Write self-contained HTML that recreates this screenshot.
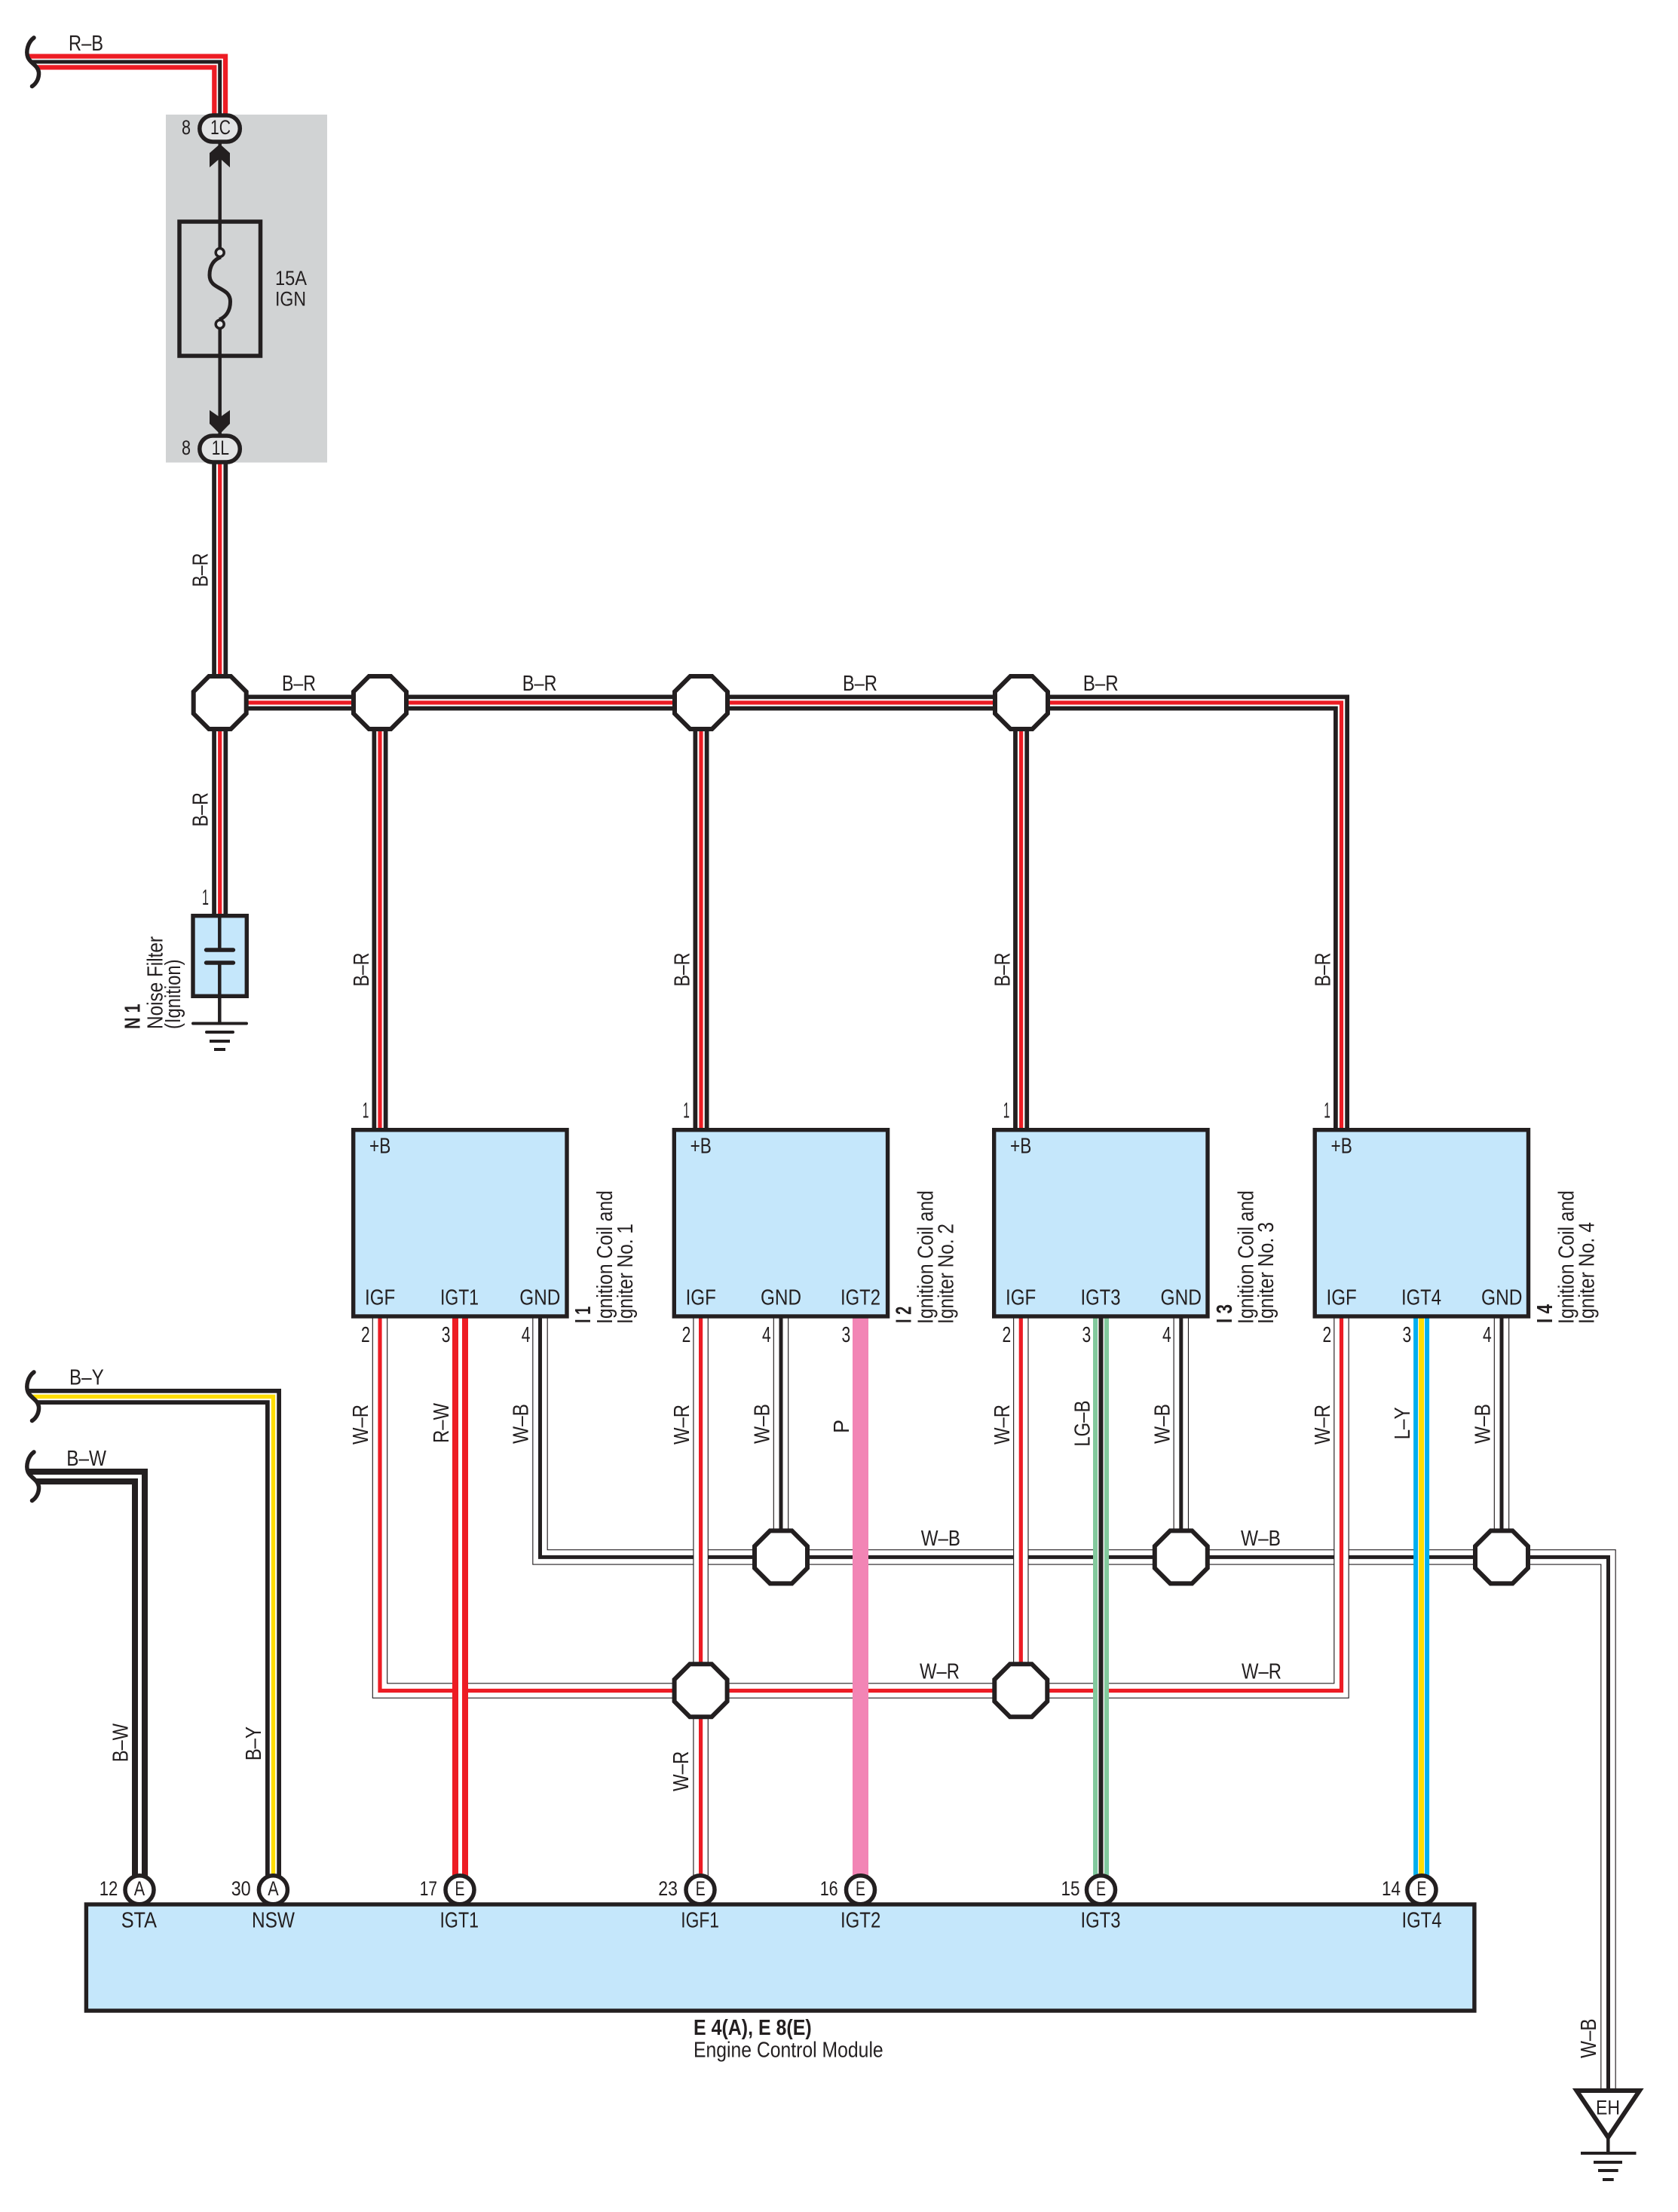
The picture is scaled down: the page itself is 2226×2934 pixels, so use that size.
<!DOCTYPE html>
<html><head><meta charset="utf-8"><title>Ignition Circuit Diagram</title>
<style>
html,body{margin:0;padding:0;background:#fff}
svg{display:block}
text{font-family:"Liberation Sans",Arial,sans-serif;font-size:29px;fill:#231f20}
.b{font-weight:bold}
.s{font-size:26.5px}
path,line,polyline{fill:none}
.k21{stroke:#231f20;stroke-width:21}
.kt{stroke:#231f20;stroke-width:20.5}
.r21{stroke:#ed1c24;stroke-width:21}
.wh10{stroke:#fff;stroke-width:9.5}
.wh5{stroke:#fff;stroke-width:5}
.wht{stroke:#fff;stroke-width:18.2}
.r5{stroke:#ed1c24;stroke-width:5.2}
.k5{stroke:#231f20;stroke-width:5}
.y5{stroke:#ffdd00;stroke-width:5.4}
.p{stroke:#f285b5;stroke-width:21}
.g{stroke:#83c99d;stroke-width:21}
.bl{stroke:#00aeef;stroke-width:21}
.wh8{stroke:#fff;stroke-width:9}
.y8{stroke:#ffdd00;stroke-width:7}
.k6{stroke:#231f20;stroke-width:6}
.box{fill:#c5e7fb;stroke:#231f20;stroke-width:5.4}
.oct{fill:#fff;stroke:#231f20;stroke-width:6;stroke-linejoin:miter}
.term{fill:#fff;stroke:#231f20;stroke-width:5.5}
.brace{fill:none;stroke:#231f20;stroke-width:5.5;stroke-linecap:round}
.gl{stroke:#231f20;stroke-width:4}
.lc{stroke-linecap:round}
</style></head><body>
<svg xmlns="http://www.w3.org/2000/svg" width="2226" height="2934" viewBox="0 0 2226 2934">
<defs>
<polygon id="o" class="oct" points="-14.5,-35 14.5,-35 35,-14.5 35,14.5 14.5,35 -14.5,35 -35,14.5 -35,-14.5"/>
</defs>
<rect width="2226" height="2934" fill="#fff"/>

<!-- fuse block -->
<rect x="220" y="152" width="214" height="461.5" fill="#d1d3d4"/>

<!-- R-B -->
<path class="r21" d="M30,82H291.7V152"/><path class="wh10" style="stroke-width:8.5" d="M30,82H291.7V152"/><path class="k5" d="M30,82H291.7V152"/>
<polygon fill="#fff" points="0,68 37,68 38,76 51,95 0,95"/>
<path class="brace" d="M45,50C37,56 34,68 37,76C40,84 50,86 51.500,96C52,104 48,111 42.500,114.500"/>

<!-- B-R trunks -->
<path class="k21" d="M291.700,595V1214"/><path class="wh10" d="M291.700,595V1214"/><path class="r5" d="M291.700,595V1214"/>
<path class="k21" d="M291.700,932H1779.500V1498"/><path class="wh10" d="M291.700,932H1779.500V1498"/><path class="r5" d="M291.700,932H1779.500V1498"/>
<path class="k21" d="M504,932V1498M930,932V1498M1354.600,932V1498"/><path class="wh10" d="M504,932V1498M930,932V1498M1354.600,932V1498"/><path class="r5" d="M504,932V1498M930,932V1498M1354.600,932V1498"/>

<!-- W-B -->
<path class="kt" d="M716.500,1748V2065.400H2133.500V2772"/><path class="wht" d="M716.500,1748V2065.400H2133.500V2772"/><path class="k5" d="M716.500,1748V2065.400H2133.500V2772"/>
<path class="kt" d="M1036,1748V2065M1566.800,1748V2065M1992,1748V2065"/><path class="wht" d="M1036,1748V2065M1566.800,1748V2065M1992,1748V2065"/><path class="k5" d="M1036,1748V2065M1566.800,1748V2065M1992,1748V2065"/>

<!-- W-R -->
<path class="kt" d="M504,1748V2242.500H1779.500V1748"/><path class="wht" d="M504,1748V2242.500H1779.500V1748"/><path class="r5" d="M504,1748V2242.500H1779.500V1748"/>
<path class="kt" d="M929.600,1748V2490M1354.300,1748V2242"/><path class="wht" d="M929.600,1748V2490M1354.300,1748V2242"/><path class="r5" d="M929.600,1748V2490M1354.300,1748V2242"/>

<!-- R-W, P, LG-B, L-Y -->
<path class="r21" d="M610.500,1748V2490"/><path class="wh5" d="M610.500,1748V2490"/>
<path class="p" d="M1141.500,1748V2490"/>
<path class="g" d="M1460.500,1748V2490"/><path class="wh8" d="M1460.500,1748V2490"/><path class="k6" d="M1460.500,1748V2490"/>
<path class="bl" d="M1885.600,1748V2490"/><path class="wh8" d="M1885.600,1748V2490"/><path class="y8" d="M1885.600,1748V2490"/>

<!-- B-Y, B-W -->
<path class="k21" d="M30,1852.500H362.500V2490"/><path class="wh10" d="M30,1852.500H362.500V2490"/><path class="y5" d="M30,1852.500H362.500V2490"/>
<polygon fill="#fff" points="0,1838 37,1838 38,1846 51,1865 0,1865"/>
<path class="brace" d="M45,1820C37,1826 34,1838 37,1846C40,1854 50,1856 51.500,1866C52,1874 48,1881 42.500,1884.500"/>
<path class="k21" d="M30,1958.500H185.500V2490"/><path class="wh5" d="M30,1958.500H185.500V2490"/>
<polygon fill="#fff" points="0,1944 37,1944 38,1952 51,1971 0,1971"/>
<path class="brace" d="M45,1926C37,1932 34,1944 37,1952C40,1960 50,1962 51.500,1972C52,1980 48,1987 42.500,1990.500"/>

<!-- fuse -->
<path stroke="#231f20" stroke-width="4.500" d="M291.700,190V335M291.700,430V576"/>
<rect x="238" y="294" width="107.500" height="178" fill="none" stroke="#231f20" stroke-width="5.500"/>
<path stroke="#231f20" stroke-width="5" d="M293,341C284,344 278,352 278,365C278,385 305.500,380 305.500,400C305.500,412 300,420 291,424"/>
<circle cx="291.700" cy="335" r="5.500" fill="#e3e4e5" stroke="#231f20" stroke-width="3.500"/>
<circle cx="291.700" cy="430" r="5.500" fill="#e3e4e5" stroke="#231f20" stroke-width="3.500"/>
<polygon fill="#231f20" points="291.700,191 305,203 305,222 291.700,210 278,222 278,203"/>
<polygon fill="#231f20" points="278,544 291.700,553.500 305,544 305,562 291.700,575.500 278,562"/>
<rect x="264.800" y="153" width="53.500" height="35" rx="17.500" fill="#e3e4e5" stroke="#231f20" stroke-width="5.500"/>
<rect x="264.800" y="578" width="53.500" height="35" rx="17.500" fill="#e3e4e5" stroke="#231f20" stroke-width="5.500"/>

<!-- octagons -->
<use href="#o" x="291.700" y="932"/><use href="#o" x="504" y="932"/><use href="#o" x="930" y="932"/><use href="#o" x="1355" y="932"/>
<use href="#o" x="1036" y="2065.400"/><use href="#o" x="1566.800" y="2065.400"/><use href="#o" x="1992" y="2065.400"/>
<use href="#o" x="929.600" y="2242.300"/><use href="#o" x="1354.300" y="2242.300"/>

<!-- noise filter -->
<rect x="256" y="1214.700" width="71.300" height="106.600" class="box"/>
<path stroke="#231f20" stroke-width="4.500" d="M291.300,1214V1260M291.300,1277V1357.500"/>
<path class="lc" stroke="#231f20" stroke-width="5.400" d="M273.500,1260H309.500M273.500,1277H309.500"/>
<path class="gl lc" d="M256,1357.500H327M274,1369H309"/>
<path class="gl" d="M278,1381H305M284,1392H299"/>

<!-- coil boxes -->
<rect class="box" x="468.700" y="1498.700" width="283.300" height="247.300"/>
<rect class="box" x="894.300" y="1498.700" width="283.300" height="247.300"/>
<rect class="box" x="1318.700" y="1498.700" width="283.300" height="247.300"/>
<rect class="box" x="1744.200" y="1498.700" width="283.300" height="247.300"/>

<!-- ECM -->
<circle class="term" cx="185" cy="2506.700" r="19"/><circle class="term" cx="362.400" cy="2506.700" r="19"/><circle class="term" cx="610" cy="2506.700" r="19"/><circle class="term" cx="929" cy="2506.700" r="19"/><circle class="term" cx="1141.500" cy="2506.700" r="19"/><circle class="term" cx="1460.500" cy="2506.700" r="19"/><circle class="term" cx="1886" cy="2506.700" r="19"/>
<rect class="box" x="114.400" y="2526" width="1841.500" height="141"/>

<!-- EH ground -->
<polygon points="2091.500,2773 2175,2773 2133.300,2835" fill="#fff" stroke="#231f20" stroke-width="6" stroke-linejoin="miter"/>
<path stroke="#231f20" stroke-width="4.500" d="M2133.300,2837V2856"/>
<path class="gl" d="M2097,2856H2170.500M2114,2868H2152M2120,2879H2146.700M2126,2891H2140.700"/>

<!-- horizontal labels -->
<g>
<text x="91" y="67" textLength="46" lengthAdjust="spacingAndGlyphs">R–B</text>
<text x="241" y="178" textLength="12" lengthAdjust="spacingAndGlyphs" class="s">8</text>
<text x="241" y="603" textLength="12" lengthAdjust="spacingAndGlyphs" class="s">8</text>
<text x="279" y="178" textLength="27" lengthAdjust="spacingAndGlyphs" class="s">1C</text>
<text x="280.700" y="603" textLength="23.300" lengthAdjust="spacingAndGlyphs" class="s">1L</text>
<text x="365" y="378" textLength="42" lengthAdjust="spacingAndGlyphs" class="s">15A</text>
<text x="365" y="405.500" textLength="41" lengthAdjust="spacingAndGlyphs" class="s">IGN</text>
<text x="374" y="916" textLength="45" lengthAdjust="spacingAndGlyphs">B–R</text>
<text x="692.700" y="916" textLength="45.800" lengthAdjust="spacingAndGlyphs">B–R</text>
<text x="1118" y="916" textLength="46" lengthAdjust="spacingAndGlyphs">B–R</text>
<text x="1436.700" y="916" textLength="47" lengthAdjust="spacingAndGlyphs">B–R</text>
<text x="92" y="1836.700" textLength="45.700" lengthAdjust="spacingAndGlyphs">B–Y</text>
<text x="88.300" y="1944" textLength="52.700" lengthAdjust="spacingAndGlyphs">B–W</text>
<text x="268" y="1200" textLength="9" lengthAdjust="spacingAndGlyphs">1</text>
<text x="1221.700" y="2050" textLength="52.300" lengthAdjust="spacingAndGlyphs">W–B</text>
<text x="1646" y="2050" textLength="53" lengthAdjust="spacingAndGlyphs">W–B</text>
<text x="1220" y="2226.700" textLength="53" lengthAdjust="spacingAndGlyphs">W–R</text>
<text x="1647" y="2226.700" textLength="53" lengthAdjust="spacingAndGlyphs">W–R</text>

<!-- I1 -->
<text x="480.700" y="1482.300" textLength="8.600" lengthAdjust="spacingAndGlyphs">1</text>
<text x="490" y="1529.300" textLength="28.300" lengthAdjust="spacingAndGlyphs">+B</text>
<text x="484" y="1730.700" textLength="40.300" lengthAdjust="spacingAndGlyphs">IGF</text>
<text x="584" y="1730.700" textLength="51" lengthAdjust="spacingAndGlyphs">IGT1</text>
<text x="689.300" y="1730.700" textLength="54" lengthAdjust="spacingAndGlyphs">GND</text>
<text x="479" y="1780" textLength="11.700" lengthAdjust="spacingAndGlyphs">2</text>
<text x="585.700" y="1780" textLength="11.700" lengthAdjust="spacingAndGlyphs">3</text>
<text x="691.700" y="1780" textLength="11.700" lengthAdjust="spacingAndGlyphs">4</text>
<!-- I2 -->
<text x="906.300" y="1482.300" textLength="8.600" lengthAdjust="spacingAndGlyphs">1</text>
<text x="915.600" y="1529.300" textLength="28.300" lengthAdjust="spacingAndGlyphs">+B</text>
<text x="909.600" y="1730.700" textLength="40.300" lengthAdjust="spacingAndGlyphs">IGF</text>
<text x="1009" y="1730.700" textLength="54" lengthAdjust="spacingAndGlyphs">GND</text>
<text x="1115" y="1730.700" textLength="53" lengthAdjust="spacingAndGlyphs">IGT2</text>
<text x="904.600" y="1780" textLength="11.700" lengthAdjust="spacingAndGlyphs">2</text>
<text x="1011" y="1780" textLength="11.700" lengthAdjust="spacingAndGlyphs">4</text>
<text x="1116.500" y="1780" textLength="11.700" lengthAdjust="spacingAndGlyphs">3</text>
<!-- I3 -->
<text x="1330.700" y="1482.300" textLength="8.600" lengthAdjust="spacingAndGlyphs">1</text>
<text x="1340" y="1529.300" textLength="28.300" lengthAdjust="spacingAndGlyphs">+B</text>
<text x="1334" y="1730.700" textLength="40.300" lengthAdjust="spacingAndGlyphs">IGF</text>
<text x="1433.500" y="1730.700" textLength="53" lengthAdjust="spacingAndGlyphs">IGT3</text>
<text x="1539.500" y="1730.700" textLength="54.500" lengthAdjust="spacingAndGlyphs">GND</text>
<text x="1329.500" y="1780" textLength="11.700" lengthAdjust="spacingAndGlyphs">2</text>
<text x="1435.500" y="1780" textLength="11.700" lengthAdjust="spacingAndGlyphs">3</text>
<text x="1542" y="1780" textLength="11.700" lengthAdjust="spacingAndGlyphs">4</text>
<!-- I4 -->
<text x="1756.200" y="1482.300" textLength="8.600" lengthAdjust="spacingAndGlyphs">1</text>
<text x="1765.500" y="1529.300" textLength="28.300" lengthAdjust="spacingAndGlyphs">+B</text>
<text x="1759.500" y="1730.700" textLength="40.300" lengthAdjust="spacingAndGlyphs">IGF</text>
<text x="1859" y="1730.700" textLength="53" lengthAdjust="spacingAndGlyphs">IGT4</text>
<text x="1965" y="1730.700" textLength="54.500" lengthAdjust="spacingAndGlyphs">GND</text>
<text x="1754.500" y="1780" textLength="11.700" lengthAdjust="spacingAndGlyphs">2</text>
<text x="1860.500" y="1780" textLength="11.700" lengthAdjust="spacingAndGlyphs">3</text>
<text x="1967" y="1780" textLength="11.700" lengthAdjust="spacingAndGlyphs">4</text>

<!-- ECM labels -->
<text x="160.700" y="2556.700" textLength="47.300" lengthAdjust="spacingAndGlyphs">STA</text>
<text x="334" y="2556.700" textLength="57" lengthAdjust="spacingAndGlyphs">NSW</text>
<text x="583.500" y="2556.700" textLength="51.500" lengthAdjust="spacingAndGlyphs">IGT1</text>
<text x="903.300" y="2556.700" textLength="50.700" lengthAdjust="spacingAndGlyphs">IGF1</text>
<text x="1115" y="2556.700" textLength="53.300" lengthAdjust="spacingAndGlyphs">IGT2</text>
<text x="1433.500" y="2556.700" textLength="53" lengthAdjust="spacingAndGlyphs">IGT3</text>
<text x="1859.500" y="2556.700" textLength="53" lengthAdjust="spacingAndGlyphs">IGT4</text>
<text x="131.700" y="2514" textLength="24.600" lengthAdjust="spacingAndGlyphs" class="s">12</text>
<text x="306.700" y="2514" textLength="26" lengthAdjust="spacingAndGlyphs" class="s">30</text>
<text x="556.700" y="2514" textLength="23.300" lengthAdjust="spacingAndGlyphs" class="s">17</text>
<text x="873.300" y="2514" textLength="25.700" lengthAdjust="spacingAndGlyphs" class="s">23</text>
<text x="1087.700" y="2514" textLength="24" lengthAdjust="spacingAndGlyphs" class="s">16</text>
<text x="1407.500" y="2514" textLength="25" lengthAdjust="spacingAndGlyphs" class="s">15</text>
<text x="1833" y="2514" textLength="25" lengthAdjust="spacingAndGlyphs" class="s">14</text>
<text x="177.800" y="2514" textLength="14.400" lengthAdjust="spacingAndGlyphs" class="s">A</text>
<text x="355.200" y="2514" textLength="14.400" lengthAdjust="spacingAndGlyphs" class="s">A</text>
<text x="603.500" y="2514" textLength="13" lengthAdjust="spacingAndGlyphs" class="s">E</text>
<text x="922.700" y="2514" textLength="13" lengthAdjust="spacingAndGlyphs" class="s">E</text>
<text x="1135" y="2514" textLength="13" lengthAdjust="spacingAndGlyphs" class="s">E</text>
<text x="1454" y="2514" textLength="13" lengthAdjust="spacingAndGlyphs" class="s">E</text>
<text x="1879.500" y="2514" textLength="13" lengthAdjust="spacingAndGlyphs" class="s">E</text>
<text x="920" y="2699" textLength="156.700" lengthAdjust="spacingAndGlyphs" class="b">E 4(A), E 8(E)</text>
<text x="920" y="2728.300" textLength="251.700" lengthAdjust="spacingAndGlyphs">Engine Control Module</text>
<text x="2117" y="2804.700" textLength="32" lengthAdjust="spacingAndGlyphs" class="s">EH</text>
</g>

<!-- rotated labels -->
<g transform="translate(-1.2,0)">
<text transform="translate(276.700,778.500) rotate(-90)" textLength="45" lengthAdjust="spacingAndGlyphs">B–R</text>
<text transform="translate(276.700,1096.500) rotate(-90)" textLength="45.500" lengthAdjust="spacingAndGlyphs">B–R</text>
<text transform="translate(490,1308.500) rotate(-90)" textLength="45" lengthAdjust="spacingAndGlyphs">B–R</text>
<text transform="translate(915.600,1308.500) rotate(-90)" textLength="45" lengthAdjust="spacingAndGlyphs">B–R</text>
<text transform="translate(1340.500,1308.500) rotate(-90)" textLength="45" lengthAdjust="spacingAndGlyphs">B–R</text>
<text transform="translate(1765.500,1308.500) rotate(-90)" textLength="45" lengthAdjust="spacingAndGlyphs">B–R</text>
<text class="b" transform="translate(186.700,1365) rotate(-90)" textLength="33.500" lengthAdjust="spacingAndGlyphs">N 1</text>
<text transform="translate(216.700,1365) rotate(-90)" textLength="123" lengthAdjust="spacingAndGlyphs">Noise Filter</text>
<text transform="translate(240,1365) rotate(-90)" textLength="92.500" lengthAdjust="spacingAndGlyphs">(Ignition)</text>

<text transform="translate(489.300,1916) rotate(-90)" textLength="53" lengthAdjust="spacingAndGlyphs">W–R</text>
<text transform="translate(596,1914) rotate(-90)" textLength="53" lengthAdjust="spacingAndGlyphs">R–W</text>
<text transform="translate(701.700,1915) rotate(-90)" textLength="53" lengthAdjust="spacingAndGlyphs">W–B</text>
<text transform="translate(915,1916) rotate(-90)" textLength="53" lengthAdjust="spacingAndGlyphs">W–R</text>
<text transform="translate(1021.500,1915) rotate(-90)" textLength="53" lengthAdjust="spacingAndGlyphs">W–B</text>
<text transform="translate(1127,1901) rotate(-90)" textLength="18" lengthAdjust="spacingAndGlyphs">P</text>
<text transform="translate(1340.300,1916) rotate(-90)" textLength="53" lengthAdjust="spacingAndGlyphs">W–R</text>
<text transform="translate(1446.500,1918.800) rotate(-90)" textLength="61.300" lengthAdjust="spacingAndGlyphs">LG–B</text>
<text transform="translate(1552.700,1915) rotate(-90)" textLength="53" lengthAdjust="spacingAndGlyphs">W–B</text>
<text transform="translate(1765,1916) rotate(-90)" textLength="53" lengthAdjust="spacingAndGlyphs">W–R</text>
<text transform="translate(1871.300,1909.400) rotate(-90)" textLength="43" lengthAdjust="spacingAndGlyphs">L–Y</text>
<text transform="translate(1977.500,1915) rotate(-90)" textLength="53" lengthAdjust="spacingAndGlyphs">W–B</text>
<text transform="translate(170.700,2337.300) rotate(-90)" textLength="51.300" lengthAdjust="spacingAndGlyphs">B–W</text>
<text transform="translate(347.300,2335.300) rotate(-90)" textLength="45.300" lengthAdjust="spacingAndGlyphs">B–Y</text>
<text transform="translate(914.300,2376) rotate(-90)" textLength="53.300" lengthAdjust="spacingAndGlyphs">W–R</text>
<text transform="translate(2118.300,2730) rotate(-90)" textLength="52.600" lengthAdjust="spacingAndGlyphs">W–B</text>

<text class="b" transform="translate(784.300,1755) rotate(-90)" textLength="22.300" lengthAdjust="spacingAndGlyphs">I 1</text>
<text transform="translate(813.300,1756) rotate(-90)" textLength="177" lengthAdjust="spacingAndGlyphs">Ignition Coil and</text>
<text transform="translate(840,1756) rotate(-90)" textLength="133" lengthAdjust="spacingAndGlyphs">Igniter No. 1</text>
<text class="b" transform="translate(1209.900,1755) rotate(-90)" textLength="22.300" lengthAdjust="spacingAndGlyphs">I 2</text>
<text transform="translate(1238.900,1756) rotate(-90)" textLength="177" lengthAdjust="spacingAndGlyphs">Ignition Coil and</text>
<text transform="translate(1265.600,1756) rotate(-90)" textLength="133" lengthAdjust="spacingAndGlyphs">Igniter No. 2</text>
<text class="b" transform="translate(1635,1755) rotate(-90)" textLength="25" lengthAdjust="spacingAndGlyphs">I 3</text>
<text transform="translate(1663.500,1756) rotate(-90)" textLength="177" lengthAdjust="spacingAndGlyphs">Ignition Coil and</text>
<text transform="translate(1690,1756) rotate(-90)" textLength="135" lengthAdjust="spacingAndGlyphs">Igniter No. 3</text>
<text class="b" transform="translate(2060,1755) rotate(-90)" textLength="25" lengthAdjust="spacingAndGlyphs">I 4</text>
<text transform="translate(2088.800,1756) rotate(-90)" textLength="177" lengthAdjust="spacingAndGlyphs">Ignition Coil and</text>
<text transform="translate(2115.500,1756) rotate(-90)" textLength="135" lengthAdjust="spacingAndGlyphs">Igniter No. 4</text>
</g>
</svg>
</body></html>
